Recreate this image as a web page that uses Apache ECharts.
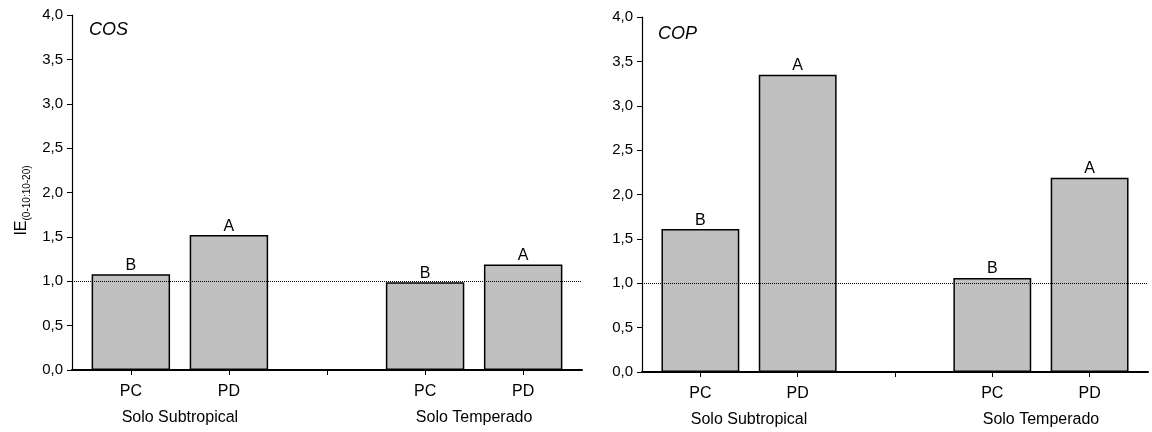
<!DOCTYPE html>
<html>
<head>
<meta charset="utf-8">
<script src="https://cdn.jsdelivr.net/npm/echarts@6/dist/echarts.min.js"></script>
<style>
  html, body { margin: 0; padding: 0; background: #fff; }
  #chart { width: 1152px; height: 432px; }
</style>
</head>
<body>
<div id="chart"></div>
<script>
// categories along each panel (slot 3 is the empty gap between soil groups)
var categories = ["PC", "PD", "", "PC", "PD"];
var groups = ["Solo Subtropical", "Solo Temperado"];
var groupPos = [1.5, 4.5];
var barSlots = [1, 2, 4, 5];

// IE values
var cosValues = [1.08, 1.52, 0.99, 1.19];
var copValues = [1.61, 3.35, 1.06, 2.19];
var cosLetters = ["B", "A", "B", "A"];
var copLetters = ["B", "A", "B", "A"];

var panelTitles = ["COS", "COP"];

var font = "Arial, 'Liberation Sans', sans-serif";

var chart = echarts.init(document.getElementById("chart"), null, { renderer: "canvas" });

function pairs(values) {
	return values.map(function (v, i) { return [barSlots[i], v]; });
}

function xAxes(gridIndex) {
	return [
		{
			type: "value", gridIndex: gridIndex, position: "bottom",
			min: 0.4, max: 5.6,
			axisLine: { show: true, onZero: false, lineStyle: { color: "#000", width: 2 } },
			axisTick: { show: true, customValues: [1, 2, 3, 4, 5], length: 5, lineStyle: { color: "#000", width: 1 } },
			axisLabel: {
				customValues: barSlots,
				formatter: function (v) { return categories[Math.round(v) - 1]; },
				color: "#000", fontFamily: font, fontSize: 16, margin: 14
			},
			splitLine: { show: false }
		},
		{
			type: "value", gridIndex: gridIndex, position: "bottom",
			min: 0.4, max: 5.6,
			axisLine: { show: false },
			axisTick: { show: false },
			axisLabel: {
				customValues: groupPos,
				formatter: function (v) { return groups[groupPos.indexOf(v)]; },
				color: "#000", fontFamily: font, fontSize: 16, margin: 40
			},
			splitLine: { show: false }
		}
	];
}

function yAxis(gridIndex, withName) {
	var ax = {
		type: "value", gridIndex: gridIndex,
		min: 0, max: 4, interval: 0.5,
		axisLine: { show: true, lineStyle: { color: "#000", width: 1.2 } },
		axisTick: { show: true, length: 5, lineStyle: { color: "#000" } },
		axisLabel: {
			color: "#000", fontFamily: font, fontSize: 15, margin: 9,
			formatter: function (v) { return v.toFixed(1).replace(".", ","); }
		},
		splitLine: { show: false }
	};
	if (withName) {
		ax.name = "{a|IE}{b|(0-10:10-20)}";
		ax.nameLocation = "middle";
		ax.nameGap = 40;
		ax.nameRotate = 90;
		ax.nameTextStyle = {
			padding: [0, 16, 0, 0],
			rich: {
				a: { fontFamily: font, fontSize: 16, color: "#000", lineHeight: 20, verticalAlign: "middle" },
				b: { fontFamily: font, fontSize: 10, color: "#000", lineHeight: 10, verticalAlign: "bottom" }
			}
		};
	}
	return ax;
}

function barSeries(idx, values, letters) {
	return {
		type: "bar",
		xAxisIndex: idx * 2,
		yAxisIndex: idx,
		data: pairs(values),
		barWidth: "80%",
		itemStyle: { color: "#c0c0c0", borderColor: "#000", borderWidth: 1.5 },
		label: {
			show: true, position: "top", distance: 1,
			color: "#000", fontFamily: font, fontSize: 16,
			formatter: function (p) { return letters[p.dataIndex]; }
		},
		markLine: {
			silent: true, symbol: "none",
			label: { show: false },
			lineStyle: { color: "#000", type: "dotted", width: 1 },
			data: [{ yAxis: 1 }]
		}
	};
}

chart.setOption({
	animation: false,
	backgroundColor: "#fff",
	title: [
		{ text: panelTitles[0], left: 89, top: 21, padding: 0,
		  textStyle: { fontFamily: font, fontSize: 18, fontStyle: "italic", fontWeight: "normal", color: "#000" } },
		{ text: panelTitles[1], left: 658, top: 25, padding: 0,
		  textStyle: { fontFamily: font, fontSize: 18, fontStyle: "italic", fontWeight: "normal", color: "#000" } }
	],
	grid: [
		{ left: 72, top: 15, width: 510, height: 355 },
		{ left: 642, top: 17, width: 506, height: 355 }
	],
	xAxis: xAxes(0).concat(xAxes(1)),
	yAxis: [yAxis(0, true), yAxis(1, false)],
	series: [
		barSeries(0, cosValues, cosLetters),
		barSeries(1, copValues, copLetters)
	]
});
</script>
</body>
</html>
